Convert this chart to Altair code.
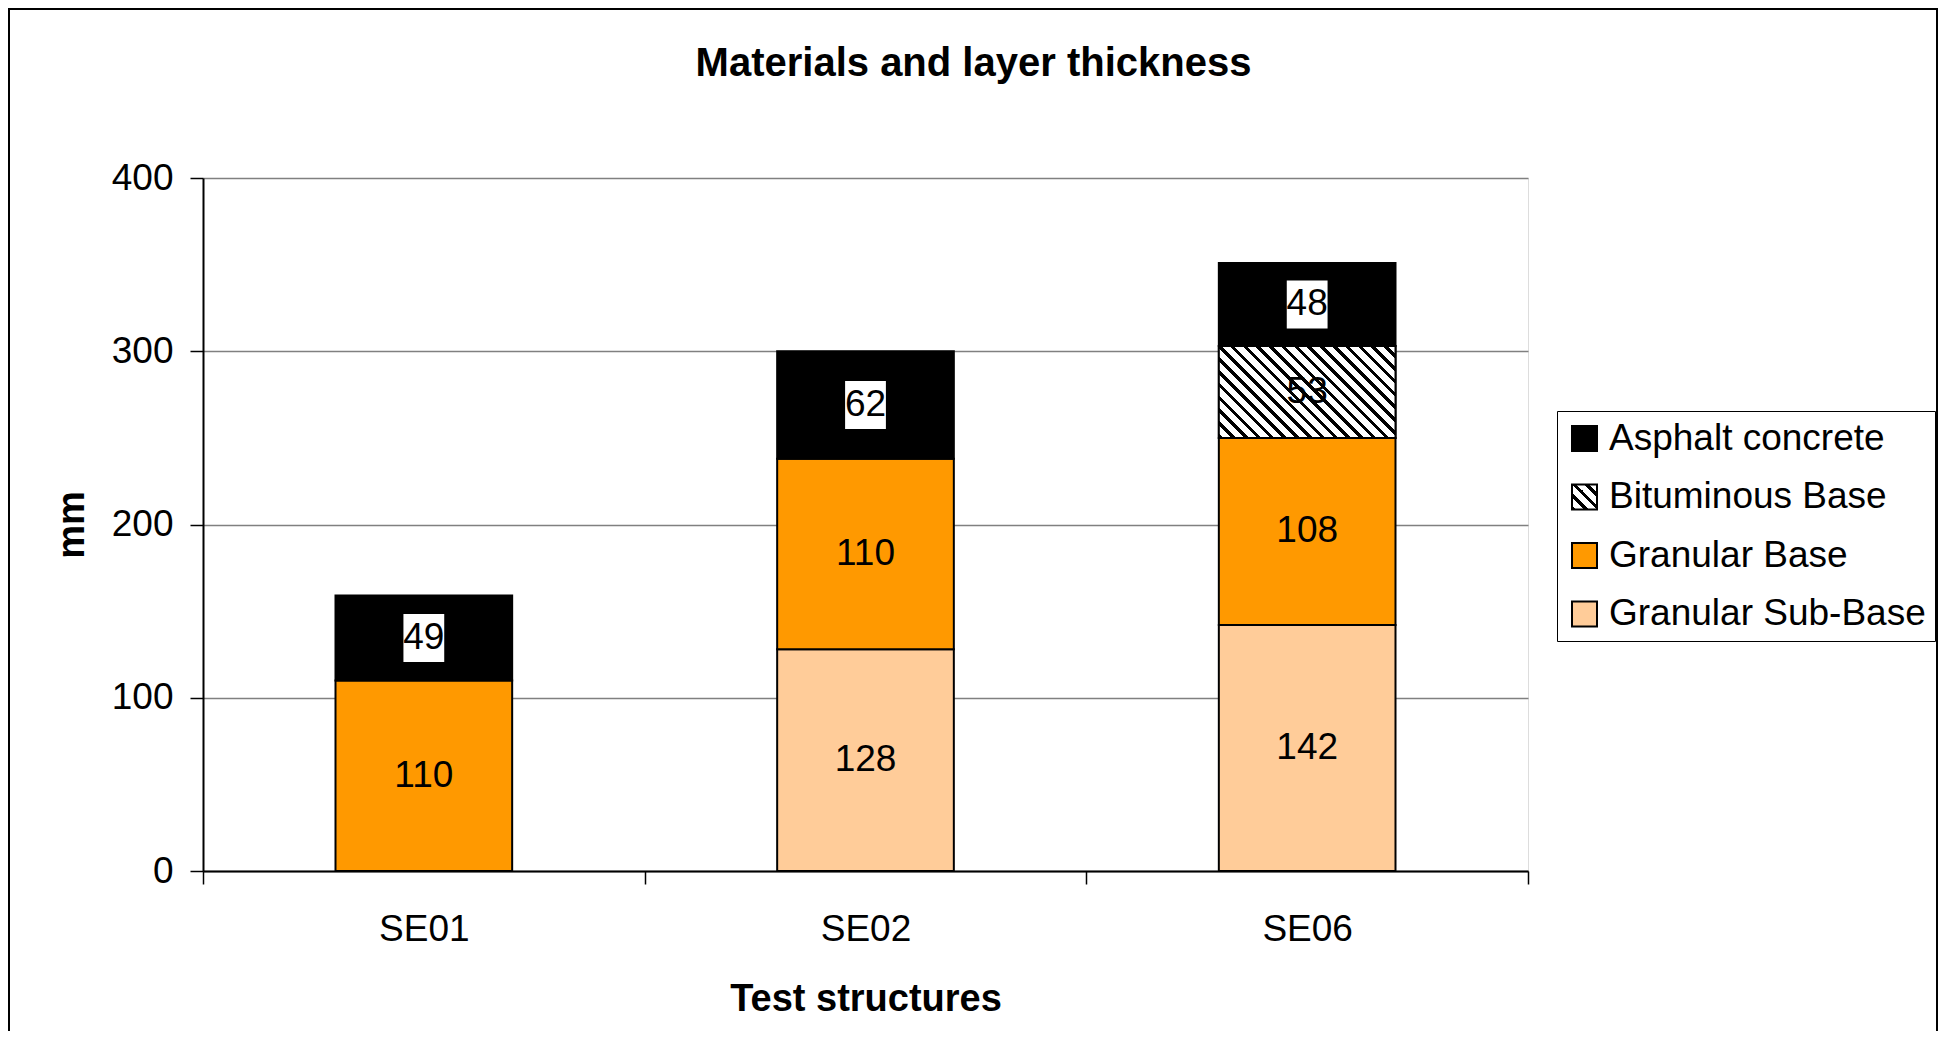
import altair as alt
import pandas as pd

# ---------------- data ----------------
structures = ["SE01", "SE02", "SE06"]
layer_names = ["Asphalt concrete", "Bituminous Base", "Granular Base", "Granular Sub-Base"]
asphalt_concrete = [49, 62, 48]
bituminous_base = [0, 0, 53]
granular_base = [110, 110, 108]
granular_sub_base = [0, 128, 142]
y_ticks = [0, 100, 200, 300, 400]

# ---------------- layout / style ----------------
W, H = 1325, 693
YMAX = 400
FONT = "Liberation Sans"
BAND = 0.4

series = [
    ("Granular Sub-Base", granular_sub_base, 0),
    ("Granular Base", granular_base, 1),
    ("Bituminous Base", bituminous_base, 2),
    ("Asphalt concrete", asphalt_concrete, 3),
]
rows = []
for name, vals, order in series:
    for s, v in zip(structures, vals):
        if v > 0:
            rows.append({"structure": s, "layer": name, "value": v, "order": order})
df = pd.DataFrame(rows)


def stripe_stops(n, dark=0.45):
    stops = []
    for k in range(n):
        a = k / n
        b = (k + dark) / n
        c = (k + 1) / n
        stops += [(a, "#000000"), (b, "#000000"), (b, "#ffffff"), (c, "#ffffff")]
    return stops


# hatch gradient for the bituminous bar segment (45 degree "\" stripes)
bw = BAND * W / len(structures)
bh = max(bituminous_base) / YMAX * H
ih, iw = 1.0 / bh, 1.0 / bw
t = (ih + iw) / (ih ** 2 + iw ** 2)
bar_hatch = alt.LinearGradient(
    gradient="linear", x1=0, y1=1, x2=t * ih, y2=1 - t * iw,
    stops=[alt.GradientStop(offset=o, color=c) for o, c in stripe_stops(21, 0.36)],
)

# hatch gradient for the legend symbol (square)
legend_stops = ",".join("{offset:%.4f,color:'%s'}" % (o, c) for o, c in stripe_stops(4, 0.36))
legend_hatch = {"expr": "{gradient:'linear',x1:0,y1:1,x2:1,y2:0,stops:[%s]}" % legend_stops}

color_range = ["#000000", legend_hatch, "#FF9900", "#FFCC99"]

x_axis = alt.Axis(
    title="Test structures", labelAngle=0, tickBand="extent", grid=False,
    domainColor="black", domainWidth=2, tickColor="black", tickWidth=1.5, tickSize=13,
    labelFontSize=37, labelFont=FONT, labelColor="black", labelPadding=27,
    titleFontSize=38, titleFont=FONT, titleFontWeight="bold", titleColor="black",
    titleY=139, titleBaseline="alphabetic",
)
y_axis = alt.Axis(
    title="mm", values=y_ticks, grid=True, gridColor="#808080", gridWidth=1.5,
    domainColor="black", domainWidth=2, tickColor="black", tickWidth=1.5, tickSize=13,
    labelFontSize=37, labelFont=FONT, labelColor="black", labelPadding=17,
    titleFontSize=38, titleFont=FONT, titleFontWeight="bold", titleColor="black",
    titleX=-131, titleY=H / 2, titleAngle=270, titleBaseline="middle", titleAlign="center",
)
x_enc = alt.X("structure:N", sort=structures,
              scale=alt.Scale(paddingInner=0, paddingOuter=0), axis=x_axis)
y_scale = alt.Scale(domain=[0, YMAX], nice=False)

base = alt.Chart(df).transform_stack(
    stack="value", groupby=["structure"], as_=["y0", "y1"],
    sort=[alt.SortField("order", order="ascending")],
).transform_calculate(mid="(datum.y0 + datum.y1) / 2")

bars = base.mark_bar(width={"band": BAND}, stroke="black", strokeWidth=2).encode(
    x=x_enc,
    y=alt.Y("y0:Q", scale=y_scale, axis=y_axis),
    y2="y1:Q",
    color=alt.Color(
        "layer:N",
        scale=alt.Scale(domain=layer_names, range=color_range),
        legend=alt.Legend(
            title=None, orient="none", legendX=1354, legendY=233,
            symbolType="square", symbolSize=625, symbolStrokeColor="black",
            symbolStrokeWidth=2, labelFontSize=37, labelFont=FONT, labelColor="black",
            labelOffset=6, rowPadding=20.5, padding=9, strokeColor="black",
            fillColor="white", labelLimit=1000,
        ),
    ),
)

hatch = base.transform_filter(alt.datum.layer == "Bituminous Base").mark_bar(
    width={"band": BAND}, fill=bar_hatch, stroke="black", strokeWidth=2
).encode(x=x_enc, y=alt.Y("y0:Q", scale=y_scale, axis=y_axis), y2="y1:Q")

BOX = "M-0.85,-1L0.85,-1L0.85,1L-0.85,1Z"
boxes = base.transform_filter(alt.datum.layer == "Asphalt concrete").mark_point(
    shape=BOX, size=2304, filled=True, color="white", opacity=1, strokeWidth=0
).encode(x=x_enc, y=alt.Y("mid:Q", scale=y_scale, axis=y_axis))

labels = base.mark_text(fontSize=37, font=FONT, color="black", baseline="middle").encode(
    x=x_enc, y=alt.Y("mid:Q", scale=y_scale, axis=y_axis), text="value:Q"
)

frame = alt.Chart(pd.DataFrame({"f": [0]})).mark_rect(
    filled=False, color="black", strokeWidth=2
).encode(x=alt.value(-194), x2=alt.value(1734), y=alt.value(-169), y2=alt.value(960))

chart = alt.layer(bars, hatch, boxes, labels, frame).properties(
    width=W, height=H,
    autosize=alt.AutoSizeParams(type="none"),
    padding={"left": 195, "top": 170, "right": 411, "bottom": 160},
    title=alt.TitleParams(
        text="Materials and layer thickness", fontSize=40, font=FONT,
        fontWeight="bold", color="black", anchor="middle", frame="group",
        dx=108, dy=108, offset=0, baseline="alphabetic",
    ),
).configure_view(stroke="#808080", strokeWidth=2).configure(background="white")

chart.save("out.html", embed_options={"renderer": "svg", "actions": False})
